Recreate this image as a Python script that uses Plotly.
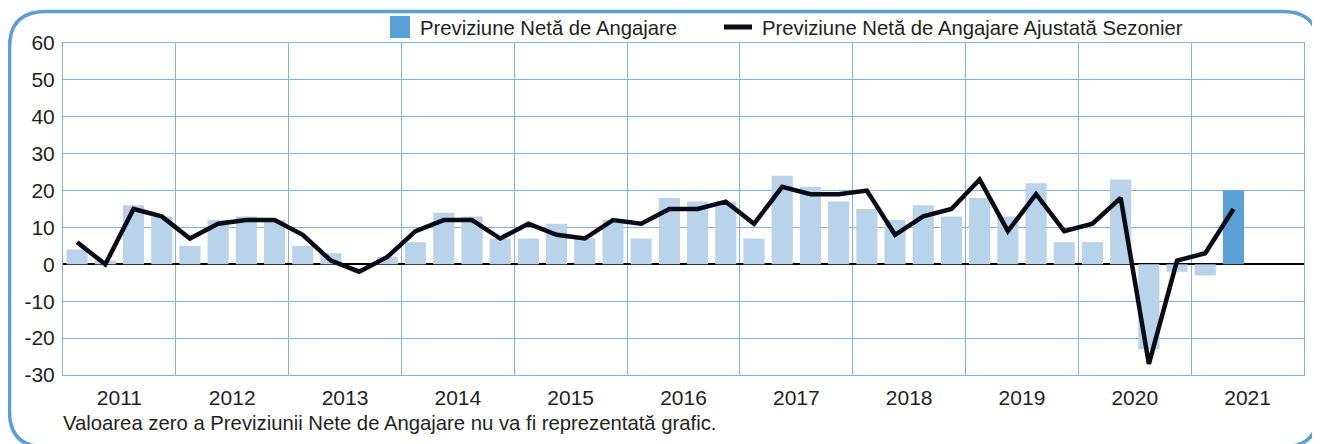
import plotly.graph_objects as go

# quarterly values 2011 Q1 .. 2021 Q2
years = [str(y) for y in range(2011, 2022)]
net_outlook = [4, 1, 16, 13, 5, 12, 13, 12, 5, 3, 0, 2,
               6, 14, 13, 7, 7, 11, 7, 12, 7, 18, 17, 17,
               7, 24, 21, 17, 15, 12, 16, 13, 18, 13, 22, 6,
               6, 23, -23, -2, -3, 20]
adjusted = [6, 0, 15, 13, 7, 11, 12, 12, 8, 1, -2, 2,
            9, 12, 12, 7, 11, 8, 7, 12, 11, 15, 15, 17,
            11, 21, 19, 19, 20, 8, 13, 15, 23, 9, 19, 9,
            11, 18, -27, 1, 3, 15]
y_ticks = [-30, -20, -10, 0, 10, 20, 30, 40, 50, 60]
y_labels = ["-30", "-20", "-10", "0", "10", "20", "30", "40", "50", "60"]

BLUE = "#5a9fd6"
LIGHT = "#b8d3ea"
GRID = "#7db5e2"
TEXT = "#231f20"
FONT = "Liberation Sans"

# page body adds an 8px offset, so the figure is drawn 8px smaller
OFF = 8
W, H = 1320 - OFF, 444 - OFF
L, R, T, B = 63 - OFF, 1304 - OFF, 43 - OFF, 375 - OFF


def px(x):
    return (x - OFF - L) / (R - L)


def py(y):
    return (B - (y - OFF)) / (B - T)


xs = list(range(len(net_outlook)))
# zero values are not drawn, the newest quarter is highlighted
bar_vals = [v if v != 0 else None for v in net_outlook]
bar_colors = [LIGHT] * (len(net_outlook) - 1) + [BLUE]

fig = go.Figure()
fig.add_trace(go.Bar(
    x=xs, y=bar_vals, width=0.75,
    marker=dict(color=bar_colors, line_width=0),
    showlegend=False, hoverinfo="y",
))
fig.add_trace(go.Scatter(
    x=xs, y=adjusted, mode="lines",
    line=dict(color="#0b0b16", width=4.5),
    showlegend=False, hoverinfo="y",
))

n_years = len(years)
fig.update_xaxes(
    range=[-0.5, n_years * 4 - 0.5],
    tickvals=[i * 4 + 1.5 for i in range(n_years)],
    ticktext=years,
    showgrid=False, ticks="", ticklabelstandoff=4,
    minor=dict(tick0=-0.5, dtick=4, showgrid=True, gridcolor=GRID, gridwidth=1, ticks=""),
    showline=True, linecolor=GRID, linewidth=1, mirror=True,
    tickfont=dict(size=21, color=TEXT, family=FONT),
    zeroline=False, fixedrange=True,
)
fig.update_yaxes(
    range=[-30, 60], tickvals=y_ticks, ticktext=y_labels,
    showgrid=True, gridcolor=GRID, gridwidth=1,
    zeroline=True, zerolinecolor="#000000", zerolinewidth=2,
    showline=True, linecolor=GRID, linewidth=1, mirror=True,
    ticks="", ticklabelstandoff=3,
    tickfont=dict(size=21, color=TEXT, family=FONT),
    fixedrange=True,
)

# rounded frame around the whole graphic
x0, x1, y0, y1, r = 9.5, 1318.5, 11.5, 447, 36
pts = [
    ("M", (x0 + r, y0)), ("L", (x1 - r, y0)), ("Q", (x1, y0), (x1, y0 + r)),
    ("L", (x1, y1 - r)), ("Q", (x1, y1), (x1 - r, y1)),
    ("L", (x0 + r, y1)), ("Q", (x0, y1), (x0, y1 - r)),
    ("L", (x0, y0 + r)), ("Q", (x0, y0), (x0 + r, y0)),
]
path = ""
for cmd, *coords in pts:
    path += cmd + " " + " ".join(f"{px(a):.5f},{py(b):.5f}" for a, b in coords) + " "
path += "Z"

shapes = [
    dict(type="path", path=path, xref="paper", yref="paper",
         line=dict(color=BLUE, width=3.5), fillcolor="rgba(0,0,0,0)"),
    # legend swatches
    dict(type="rect", xref="paper", yref="paper",
         x0=px(390), x1=px(410), y0=py(38), y1=py(16),
         fillcolor=BLUE, line_width=0),
    dict(type="line", xref="paper", yref="paper",
         x0=px(724), x1=px(752), y0=py(27), y1=py(27),
         line=dict(color="#0b0b16", width=5)),
]

annotations = [
    dict(text="Previziune Netă de Angajare", x=px(418), y=py(28),
         xref="paper", yref="paper", xanchor="left", yanchor="middle",
         showarrow=False, font=dict(size=20.3, color=TEXT, family=FONT)),
    dict(text="Previziune Netă de Angajare Ajustată Sezonier", x=px(760), y=py(28),
         xref="paper", yref="paper", xanchor="left", yanchor="middle",
         showarrow=False, font=dict(size=20.3, color=TEXT, family=FONT)),
    dict(text="Valoarea zero a Previziunii Nete de Angajare nu va fi reprezentată grafic.",
         x=px(61), y=py(423), xref="paper", yref="paper",
         xanchor="left", yanchor="middle", showarrow=False,
         font=dict(size=20.3, color=TEXT, family=FONT)),
]

fig.update_layout(
    width=W, height=H,
    margin=dict(l=L, r=W - R, t=T, b=H - B),
    paper_bgcolor="white", plot_bgcolor="white",
    bargap=0.25, shapes=shapes, annotations=annotations,
    font=dict(family=FONT, color=TEXT),
)

fig.write_html("out.html")
